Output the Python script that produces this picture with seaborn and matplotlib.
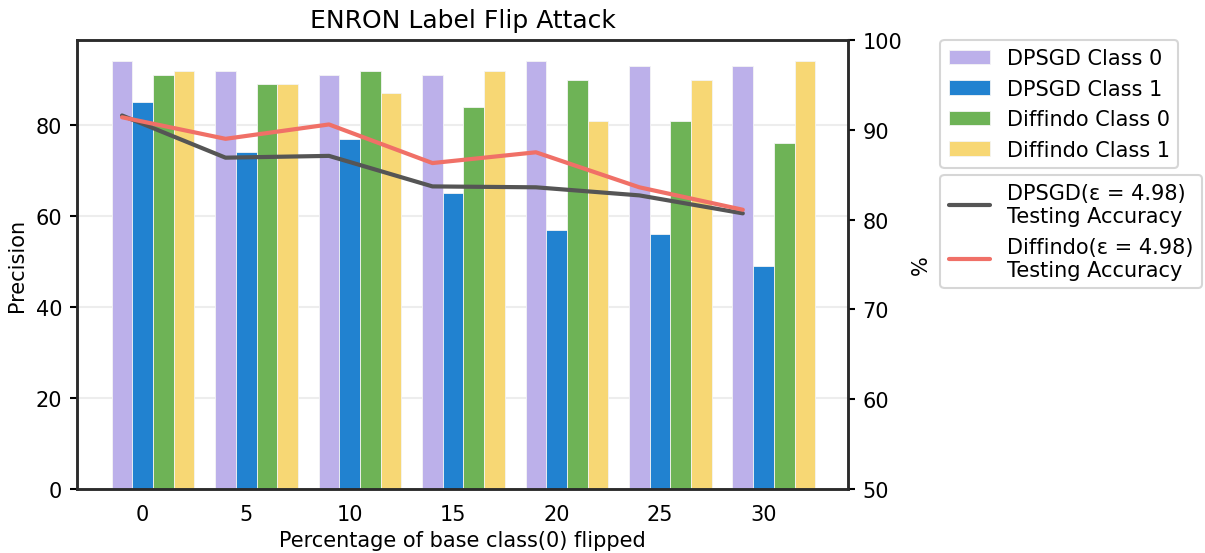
import numpy as np
import pandas as pd
import matplotlib
matplotlib.use("Agg")
import matplotlib.pyplot as plt
from matplotlib.patches import Patch
from matplotlib.lines import Line2D
import seaborn as sns

# Percentage of base class (0) labels flipped
flip_pct = [0, 5, 10, 15, 20, 25, 30]

# Per-class precision (left axis)
dpsgd_class0 = [94, 92, 91, 91, 94, 93, 93]
dpsgd_class1 = [85, 74, 77, 65, 57, 56, 49]
diffindo_class0 = [91, 89, 92, 84, 90, 81, 76]
diffindo_class1 = [92, 89, 87, 92, 81, 90, 94]

# Testing accuracy in % (right axis)
dpsgd_acc = [91.6, 86.9, 87.1, 83.7, 83.6, 82.7, 80.7]
diffindo_acc = [91.4, 89.0, 90.6, 86.3, 87.5, 83.6, 81.1]

bar_series = ["DPSGD Class 0", "DPSGD Class 1", "Diffindo Class 0", "Diffindo Class 1"]
bar_colors = ["#bcb0ea", "#2182d0", "#6eb356", "#f7d774"]
line_labels = ["DPSGD(ε = 4.98)\nTesting Accuracy", "Diffindo(ε = 4.98)\nTesting Accuracy"]
line_colors = ["#555555", "#f07067"]

sns.set_style("ticks")
plt.rcParams["font.family"] = ["DejaVu Sans"]
plt.rcParams["font.size"] = 10
for key in ("text.color", "axes.labelcolor", "xtick.color", "ytick.color"):
    plt.rcParams[key] = "black"

df = pd.DataFrame({
    "flip": [str(p) for p in flip_pct] * 4,
    "series": np.repeat(bar_series, len(flip_pct)),
    "precision": dpsgd_class0 + dpsgd_class1 + diffindo_class0 + diffindo_class1,
})

fig = plt.figure(figsize=(8.04, 3.693), dpi=150)
ax = fig.add_axes([0.0638, 0.1155, 0.6393, 0.8105])

sns.barplot(
    data=df, x="flip", y="precision", hue="series",
    order=[str(p) for p in flip_pct], hue_order=bar_series,
    palette=dict(zip(bar_series, bar_colors)), saturation=1,
    errorbar=None, width=0.8, edgecolor="#f4f4f4", linewidth=0.4,
    legend=False, ax=ax,
)

n = len(flip_pct)
idx = np.arange(n)
ax.set_xticks(idx - 0.1, [str(p) for p in flip_pct])
ax.set_xlim(-0.736, n - 1 + 0.716)
ax.set_ylim(0, max(dpsgd_class0 + dpsgd_class1 + diffindo_class0 + diffindo_class1) * 1.05)
ax.set_yticks([0, 20, 40, 60, 80])
ax.yaxis.grid(True, color="#ededed", linewidth=1.0)
ax.set_axisbelow(True)
ax.set_xlabel("Percentage of base class(0) flipped", fontsize=10, labelpad=3)
ax.set_ylabel("Precision", fontsize=10)
ax.set_title("ENRON Label Flip Attack", fontsize=12)
ax.tick_params(axis="x", length=0, labelsize=10, pad=7)
ax.tick_params(axis="y", length=3.5, width=1.0, labelsize=10)

ax2 = ax.twinx()
line_x = idx - 0.3
sns.lineplot(x=line_x, y=dpsgd_acc, color=line_colors[0], linewidth=2.0, ax=ax2)
sns.lineplot(x=line_x, y=diffindo_acc, color=line_colors[1], linewidth=2.0, ax=ax2)
ax2.set_ylim(50, 100)
ax2.set_yticks([50, 60, 70, 80, 90, 100])
ax2.set_ylabel("%", fontsize=10)
ax2.tick_params(axis="y", length=3.5, width=1.0, labelsize=10)
ax2.set_xlim(ax.get_xlim())

for a in (ax, ax2):
    for s in a.spines.values():
        s.set_visible(True)
        s.set_color("#2b2b2b")
        s.set_linewidth(1.2)

bar_handles = [Patch(facecolor=c, edgecolor="#f4f4f4", linewidth=0.4) for c in bar_colors]
leg1 = ax2.legend(bar_handles, bar_series, loc="upper left",
                  bbox_to_anchor=(1.12, 1.0), borderaxespad=0,
                  fontsize=10, frameon=True)
ax2.add_artist(leg1)
line_handles = [Line2D([], [], color=c, linewidth=2.0) for c in line_colors]
ax2.legend(line_handles, line_labels, loc="upper left",
           bbox_to_anchor=(1.12, 0.70), borderaxespad=0,
           fontsize=10, frameon=True)

fig.savefig("out.png", dpi=150)
